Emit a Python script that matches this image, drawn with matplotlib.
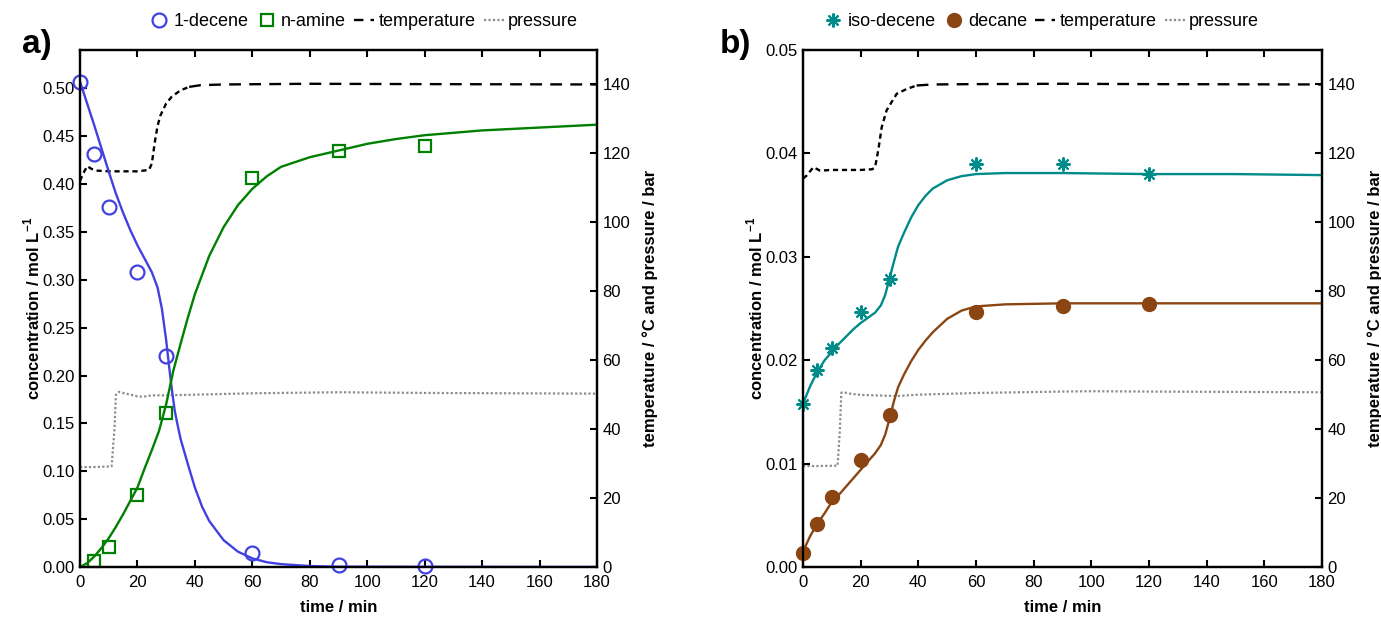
import matplotlib
matplotlib.use("Agg")
import matplotlib.pyplot as plt
from matplotlib.lines import Line2D

plt.rcParams['font.family'] = ['Liberation Sans', 'DejaVu Sans']
plt.rcParams['mathtext.fontset'] = 'custom'
plt.rcParams['mathtext.bf'] = 'Liberation Sans:bold'
plt.rcParams['mathtext.rm'] = 'Liberation Sans'

# ---------------- data: panel a ----------------
t_pts = [0, 5, 10, 20, 30, 60, 90, 120]
decene_pts = [0.507, 0.431, 0.376, 0.308, 0.220, 0.015, 0.002, 0.001]
t_amine_pts = [5, 10, 20, 30, 60, 90, 120]
amine_pts = [0.006, 0.021, 0.075, 0.161, 0.406, 0.435, 0.440]

t_dec_fit = [0, 2.5, 5, 7.5, 10, 12.5, 15, 17.5, 20, 22.5, 25, 27, 28.5, 30, 31, 32, 33, 34,
             35, 37.5, 40, 42.5, 45, 50, 55, 60, 65, 70, 80, 90, 180]
decene_fit = [0.507, 0.484, 0.461, 0.437, 0.413, 0.390, 0.370, 0.352, 0.336, 0.322, 0.308,
              0.292, 0.270, 0.237, 0.210, 0.185, 0.163, 0.148, 0.134, 0.108, 0.083, 0.063,
              0.048, 0.028, 0.016, 0.009, 0.005, 0.003, 0.001, 0.0003, 0.0]

t_am_fit = [0, 2.5, 5, 7.5, 10, 12.5, 15, 17.5, 20, 22.5, 25, 27.5, 30, 32.5, 35, 37.5, 40,
            45, 50, 55, 60, 65, 70, 80, 90, 100, 110, 120, 140, 160, 180]
amine_fit = [0.0, 0.004, 0.011, 0.020, 0.030, 0.042, 0.055, 0.069, 0.083, 0.103, 0.122,
             0.142, 0.170, 0.205, 0.233, 0.260, 0.285, 0.325, 0.355, 0.378, 0.395, 0.408,
             0.418, 0.428, 0.435, 0.442, 0.447, 0.451, 0.456, 0.459, 0.462]

t_temp_a = [0, 1, 2.5, 4, 6, 10, 15, 20, 24, 25, 26, 27, 28, 30, 32, 35, 38, 42, 50, 80, 120, 180]
temp_a = [112, 114, 116.3, 115.5, 115, 114.8, 114.8, 114.8, 115.2, 117, 123, 128, 131,
          134.5, 136.5, 138.3, 139.3, 139.8, 140, 140.2, 140.1, 140]

t_pres_a = [0, 5, 11, 12, 12.5, 13.5, 16, 20, 22, 25, 30, 35, 40, 60, 90, 120, 180]
pres_a = [29, 29, 29.2, 40, 50, 50.8, 50.3, 49.5, 49.4, 49.8, 49.8, 49.9, 50.0, 50.4,
          50.7, 50.5, 50.3]

# ---------------- data: panel b ----------------
isodecene_pts = [0.0158, 0.0191, 0.0212, 0.0247, 0.0279, 0.0390, 0.0390, 0.0380]
decane_pts = [0.0014, 0.0042, 0.0068, 0.0103, 0.0147, 0.0247, 0.0252, 0.0254]

t_b_fit = [0, 2.5, 5, 7.5, 10, 12.5, 15, 17.5, 20, 22.5, 25, 27, 28.5, 30, 31.5, 33, 35,
           37.5, 40, 42.5, 45, 50, 55, 60, 70, 90, 120, 150, 180]
isodecene_fit = [0.0158, 0.0175, 0.0189, 0.0200, 0.0208, 0.0216, 0.0223, 0.0230, 0.0236,
                 0.0241, 0.0246, 0.0253, 0.0263, 0.0279, 0.0295, 0.0310, 0.0323, 0.0338,
                 0.0350, 0.0359, 0.0366, 0.0374, 0.0378, 0.0380, 0.0381, 0.0381, 0.0380,
                 0.0380, 0.0379]
decane_fit = [0.0015, 0.0030, 0.0042, 0.0052, 0.0063, 0.0070, 0.0078, 0.0086, 0.0094,
              0.0102, 0.0110, 0.0118, 0.0128, 0.0143, 0.0160, 0.0174, 0.0186, 0.0199,
              0.0210, 0.0219, 0.0227, 0.0240, 0.0248, 0.0252, 0.0254, 0.0255, 0.0255,
              0.0255, 0.0255]

t_temp_b = [0, 1.3, 3.6, 5.9, 10, 15, 20, 24, 25, 26.1, 27.3, 29, 32.5, 36, 39.4, 45, 60, 90, 120, 180]
temp_b = [112.7, 113.6, 116, 115, 115.2, 115.2, 115.2, 115.4, 116, 120.9, 127.6, 132.5,
          137.3, 138.7, 139.7, 140, 140.1, 140.2, 140.1, 140]

t_pres_b = [0, 5, 12, 12.8, 13.3, 14.5, 17, 20.8, 25, 32.5, 40, 61, 90, 100, 120, 180]
pres_b = [29.3, 29.3, 29.4, 40, 50.6, 50.6, 50.2, 49.9, 49.8, 49.6, 50.0, 50.5, 50.9,
          51.0, 50.9, 50.7]

x_ticks = [0, 20, 40, 60, 80, 100, 120, 140, 160, 180]
ya_ticks = [0.00, 0.05, 0.10, 0.15, 0.20, 0.25, 0.30, 0.35, 0.40, 0.45, 0.50]
yb_ticks = [0.00, 0.01, 0.02, 0.03, 0.04, 0.05]
right_ticks = [0, 20, 40, 60, 80, 100, 120, 140]

BLUE = '#4141E1'
GREEN = '#008000'
TEAL = '#008B8B'
BROWN = '#8B4513'
GRAY = '#8C8C8C'

fig = plt.figure(figsize=(13.81, 6.17), dpi=100)
W, H = 1381, 617
axa = fig.add_axes([80 / W, 1 - 567 / H, 517 / W, 517 / H])
axb = fig.add_axes([803 / W, 1 - 567 / H, 519 / W, 517 / H])


def style(ax, ax2, yticks, ylim, fmt):
    ax.set_xlim(0, 180)
    ax.set_ylim(*ylim)
    ax.set_xticks(x_ticks)
    ax.set_yticks(yticks)
    ax.set_yticklabels([fmt.format(v) for v in yticks])
    ax2.set_ylim(0, 150)
    ax2.set_yticks(right_ticks)
    for a in (ax, ax2):
        for s in a.spines.values():
            s.set_linewidth(1.6)
        a.tick_params(direction='in', length=5, width=1.5, labelsize=12, pad=4)
    ax.tick_params(axis='x', pad=6)
    ax.tick_params(top=True, labeltop=False, right=False)
    ax.set_xlabel('time / min', fontsize=12, fontweight='bold', labelpad=7)
    ax.set_ylabel(r'concentration / mol L$^{\mathbf{-1}}$', fontsize=12, fontweight='bold', labelpad=0)
    ax2.set_ylabel('temperature / °C and pressure / bar', fontsize=12, fontweight='bold', labelpad=9)


def temp_plot(ax2, t, T):
    # temperature drawn densely dashed during ramp, regular dashes afterwards
    t1 = [v for v in t if v <= 40]
    T1 = T[:len(t1)]
    ax2.plot(t1, T1, color='black', lw=1.7, linestyle=(0, (2.2, 1.6)))
    ax2.plot(t[len(t1) - 1:], T[len(t1) - 1:], color='black', lw=1.7, linestyle=(0, (5, 3.5)))


# ---- panel a ----
axa2 = axa.twinx()
axa2.plot(t_pres_a, pres_a, color=GRAY, lw=1.6, linestyle=(0, (1, 1)))
temp_plot(axa2, t_temp_a, temp_a)
axa.set_zorder(axa2.get_zorder() + 1)
axa.patch.set_visible(False)
axa.plot(t_dec_fit, decene_fit, color=BLUE, lw=1.7)
axa.plot(t_am_fit, amine_fit, color=GREEN, lw=1.7)
axa.plot(t_pts, decene_pts, 'o', mfc='none', mec=BLUE, ms=10, mew=1.6, clip_on=False)
axa.plot(t_amine_pts, amine_pts, 's', mfc='none', mec=GREEN, ms=8, mew=1.6, clip_on=False)
style(axa, axa2, ya_ticks, (0, 0.54), '{:.2f}')

# ---- panel b ----
axb2 = axb.twinx()
axb2.plot(t_pres_b, pres_b, color=GRAY, lw=1.6, linestyle=(0, (1, 1)))
temp_plot(axb2, t_temp_b, temp_b)
axb.set_zorder(axb2.get_zorder() + 1)
axb.patch.set_visible(False)
axb.plot(t_b_fit, isodecene_fit, color=TEAL, lw=1.7)
axb.plot(t_b_fit, decane_fit, color=BROWN, lw=1.7)
axb.plot(t_pts, isodecene_pts, marker=(8, 2, 0), ls='none', color=TEAL, mec=TEAL, ms=10, mew=1.5, clip_on=False)
axb.plot(t_pts, decane_pts, 'o', color=BROWN, mec=BROWN, ms=10, clip_on=False)
style(axb, axb2, yb_ticks, (0, 0.05), '{:.2f}')

# ---- legends ----
temp_h = Line2D([], [], color='black', lw=1.7, linestyle=(0, (4, 3)))
pres_h = Line2D([], [], color=GRAY, lw=1.6, linestyle=(0, (1, 1)))
ha = [Line2D([], [], marker='o', ls='none', mfc='none', mec=BLUE, ms=10, mew=1.6),
      Line2D([], [], marker='s', ls='none', mfc='none', mec=GREEN, ms=8, mew=1.6),
      temp_h, pres_h]
hb = [Line2D([], [], marker=(8, 2, 0), ls='none', color=TEAL, ms=10, mew=1.5),
      Line2D([], [], marker='o', ls='none', color=BROWN, ms=10),
      temp_h, pres_h]
kw = dict(ncol=4, frameon=False, fontsize=13, handlelength=1.1, handletextpad=0.25,
          columnspacing=0.45, loc='center')
axa.legend(ha, ['1-decene', 'n-amine', 'temperature', 'pressure'],
           bbox_to_anchor=(0.549, 1.055), **kw)
axb.legend(hb, ['iso-decene', 'decane', 'temperature', 'pressure'],
           bbox_to_anchor=(0.459, 1.055), **kw)

fig.text(22 / W, 1 - 45 / H, 'a)', fontsize=24, fontweight='bold', va='center', ha='left')
fig.text(720 / W, 1 - 45 / H, 'b)', fontsize=24, fontweight='bold', va='center', ha='left')

fig.savefig('out.png', dpi=100)
